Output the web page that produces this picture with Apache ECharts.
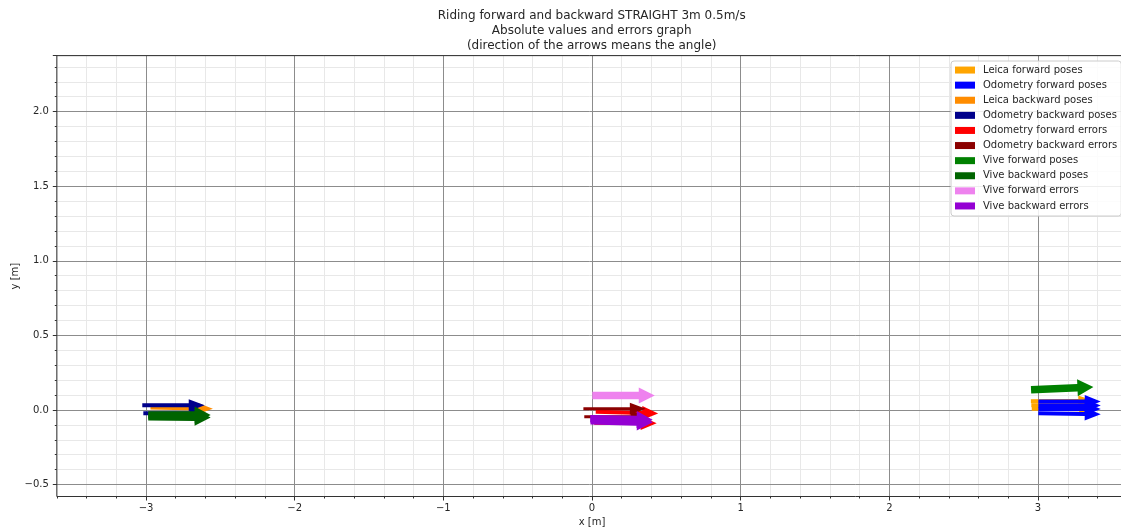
<!DOCTYPE html>
<html>
<head>
<meta charset="utf-8">
<script src="https://cdn.jsdelivr.net/npm/echarts@6/dist/echarts.min.js"></script>
<style>
  html, body { margin: 0; padding: 0; background: #ffffff; }
  #chart { width: 1121px; height: 530px; }
</style>
</head>
<body>
<div id="chart"></div>
<script>
// Arrow records: [x (m), y (m), heading (deg)]
const leicaForward    = [[2.952, 0.058, 0.5], [2.955, 0.032, 0.0], [2.958, 0.008, -0.5]];
const odoForward      = [[3.002, 0.056, 0.0], [3.002, 0.030, 0.0], [3.002, 0.006, 0.0], [3.002, -0.022, -1.0]];
const leicaBackward   = [[-2.970, 0.016, -1.0]];
const odoBackward     = [[-3.025, 0.031, 0.0], [-3.018, -0.022, 0.0]];
const odoForwardErr   = [[0.025, -0.012, -1.5], [0.015, -0.085, -0.5]];
const odoBackwardErr  = [[-0.058, 0.009, 0.0], [-0.052, -0.045, 0.0]];
const viveForward     = [[2.953, 0.136, 2.5]];
const viveBackward    = [[-2.985, -0.034, 0.0], [-2.985, -0.046, -0.5]];
const viveForwardErr  = [[0.002, 0.097, 0.0]];
const viveBackwardErr = [[-0.012, -0.058, -1.0], [-0.010, -0.072, -1.5]];

const seriesNames = [
  'Leica forward poses', 'Odometry forward poses', 'Leica backward poses',
  'Odometry backward poses', 'Odometry forward errors', 'Odometry backward errors',
  'Vive forward poses', 'Vive backward poses', 'Vive forward errors', 'Vive backward errors'
];
const seriesData = [
  leicaForward, odoForward, leicaBackward, odoBackward, odoForwardErr,
  odoBackwardErr, viveForward, viveBackward, viveForwardErr, viveBackwardErr
];
const seriesColors = [
  '#FFA500', '#0000FF', '#FF8C00', '#00008B', '#FF0000',
  '#8B0000', '#008000', '#006400', '#EE82EE', '#9400D3'
];

const titleLines = [
  'Riding forward and backward STRAIGHT 3m 0.5m/s',
  'Absolute values and errors graph',
  '(direction of the arrows means the angle)'
];

// ---- layout / styling ----
const FONT = 'DejaVu Sans';
const TEXT = '#262626';
const X_MIN = -3.6, X_MAX = 3.6, Y_MIN = -0.58, Y_MAX = 2.375;
const PLOT_LEFT = 56.8, PLOT_TOP = 55.65;
const X_SCALE = 148.67, Y_SCALE = 149.19;          // px per metre
const PLOT_W = (X_MAX - X_MIN) * X_SCALE;
const PLOT_H = (Y_MAX - Y_MIN) * Y_SCALE;
const ARROW_LEN = 0.42;                              // metres, tail to tip

// arrow body sizes in px: shaft width, head width, head length
const arrowSizes = [
  [4, 11, 15], [4, 13, 16], [4, 11, 15], [4, 12, 16], [4, 14, 16],
  [3, 12, 16], [7.5, 17, 16], [7.5, 17, 16], [7.5, 16, 16], [7.5, 17, 16]
];

function minus(s) { return s.replace('-', '\u2212'); }

function arrowRenderer(size) {
  const [shaftW, headW, headL] = size;
  return function (params, api) {
    const x = api.value(0), y = api.value(1);
    const a = api.value(2) * Math.PI / 180;
    const p0 = api.coord([x, y]);
    const p1 = api.coord([x + ARROW_LEN * Math.cos(a), y + ARROW_LEN * Math.sin(a)]);
    const dx = p1[0] - p0[0], dy = p1[1] - p0[1];
    const len = Math.hypot(dx, dy);
    const ux = dx / len, uy = dy / len;
    const nx = -uy, ny = ux;
    const bx = p1[0] - ux * headL, by = p1[1] - uy * headL;
    const s = shaftW / 2, h = headW / 2;
    const pts = [
      [p0[0] + nx * s, p0[1] + ny * s],
      [bx + nx * s, by + ny * s],
      [bx + nx * h, by + ny * h],
      [p1[0], p1[1]],
      [bx - nx * h, by - ny * h],
      [bx - nx * s, by - ny * s],
      [p0[0] - nx * s, p0[1] - ny * s]
    ];
    return {
      type: 'polygon',
      shape: { points: pts },
      style: { fill: api.visual('color'), stroke: null }
    };
  };
}

const hiddenAxis = (gridIndex) => ({
  gridIndex, type: 'value', show: false, min: 0, max: 1,
  axisLine: { onZero: false }, splitLine: { show: false }
});

const gridCommon = { top: PLOT_TOP, height: PLOT_H, containLabel: false, outerBoundsMode: 'none' };

const option = {
  animation: false,
  backgroundColor: '#ffffff',
  title: {
    text: titleLines.join('\n'),
    left: 591.7,
    top: 7.8,
    padding: 0,
    textAlign: 'center',
    textStyle: { fontFamily: FONT, fontSize: 12, fontWeight: 'normal', color: TEXT, lineHeight: 15.3 }
  },
  legend: {
    data: seriesNames,
    orient: 'vertical',
    left: 951,
    top: 61,
    itemWidth: 20,
    itemHeight: 7,
    itemGap: 3,
    icon: 'rect',
    selectedMode: false,
    padding: [3, 4, 4, 4],
    backgroundColor: 'rgba(255,255,255,0.85)',
    borderColor: '#cccccc',
    borderWidth: 1,
    borderRadius: 3,
    textStyle: { fontFamily: FONT, fontSize: 10, color: TEXT, lineHeight: 12.1, padding: [0, 0, 0, 3] }
  },
  grid: [
    // 0: data area with frame
    Object.assign({ left: PLOT_LEFT, width: PLOT_W, show: true, borderColor: '#333333', borderWidth: 1,
      backgroundColor: 'transparent', z: 3 }, gridCommon),
    // 1: major x grid/ticks (from -3)
    Object.assign({ left: PLOT_LEFT + 0.6 * X_SCALE, width: PLOT_W - 0.6 * X_SCALE }, gridCommon),
    // 2: minor x grid/ticks
    Object.assign({ left: PLOT_LEFT, width: PLOT_W }, gridCommon),
    // 3: major y grid/ticks (from -0.5)
    { left: PLOT_LEFT, width: PLOT_W, top: PLOT_TOP, height: (Y_MAX + 0.5) * Y_SCALE,
      containLabel: false, outerBoundsMode: 'none' },
    // 4: minor y grid/ticks
    { left: PLOT_LEFT, width: PLOT_W, top: PLOT_TOP, height: (Y_MAX + 0.5) * Y_SCALE,
      containLabel: false, outerBoundsMode: 'none' }
  ],
  xAxis: [
    {
      gridIndex: 0, type: 'value', min: X_MIN, max: X_MAX,
      name: 'x [m]', nameLocation: 'middle', nameGap: 21,
      nameTextStyle: { fontFamily: FONT, fontSize: 10, color: TEXT },
      axisLine: { show: false, onZero: false }, axisTick: { show: false },
      axisLabel: { show: false }, splitLine: { show: false }
    },
    {
      gridIndex: 1, type: 'value', min: -3, max: X_MAX, interval: 1, z: 1,
      axisLine: { show: false, onZero: false },
      axisTick: { show: true, inside: false, length: 4, lineStyle: { color: '#333333', width: 1 } },
      axisLabel: {
        margin: 6, fontFamily: FONT, fontSize: 10, color: TEXT, lineHeight: 12,
        formatter: v => (Math.abs(v - Math.round(v)) < 1e-6 ? minus(String(Math.round(v))) : '')
      },
      splitLine: { show: true, lineStyle: { color: '#8c8c8c', width: 1 } }
    },
    {
      gridIndex: 2, type: 'value', min: X_MIN, max: X_MAX, interval: 0.2, z: 0,
      axisLine: { show: false, onZero: false },
      axisTick: { show: true, inside: false, length: 2, lineStyle: { color: '#333333', width: 1 } },
      axisLabel: { show: false },
      splitLine: { show: true, lineStyle: { color: '#e8e8e8', width: 1 } }
    },
    hiddenAxis(3),
    hiddenAxis(4)
  ],
  yAxis: [
    {
      gridIndex: 0, type: 'value', min: Y_MIN, max: Y_MAX,
      name: 'y [m]', nameLocation: 'middle', nameGap: 36, nameRotate: 90,
      nameTextStyle: { fontFamily: FONT, fontSize: 10, color: TEXT },
      axisLine: { show: false, onZero: false }, axisTick: { show: false },
      axisLabel: { show: false }, splitLine: { show: false }
    },
    hiddenAxis(1),
    hiddenAxis(2),
    {
      gridIndex: 3, type: 'value', min: -0.5, max: Y_MAX, interval: 0.5, z: 1,
      axisLine: { show: false, onZero: false },
      axisTick: { show: true, inside: false, length: 4, lineStyle: { color: '#333333', width: 1 } },
      axisLabel: {
        margin: 8, fontFamily: FONT, fontSize: 10, color: TEXT,
        formatter: v => (Math.abs(v * 2 - Math.round(v * 2)) < 1e-6 ? minus(v.toFixed(1)) : '')
      },
      splitLine: { show: true, lineStyle: { color: '#8c8c8c', width: 1 } }
    },
    {
      gridIndex: 4, type: 'value', min: -0.5, max: Y_MAX, interval: 0.1, z: 0,
      axisLine: { show: false, onZero: false },
      axisTick: { show: true, inside: false, length: 2, lineStyle: { color: '#333333', width: 1 } },
      axisLabel: { show: false },
      splitLine: { show: true, lineStyle: { color: '#e8e8e8', width: 1 } }
    }
  ],
  series: seriesNames.map((name, i) => ({
    name,
    type: 'custom',
    xAxisIndex: 0,
    yAxisIndex: 0,
    z: 2 + i * 0.01,
    itemStyle: { color: seriesColors[i] },
    encode: { x: 0, y: 1 },
    renderItem: arrowRenderer(arrowSizes[i]),
    data: seriesData[i]
  }))
};

const chart = echarts.init(document.getElementById('chart'), null, { renderer: 'canvas' });
chart.setOption(option);
</script>
</body>
</html>
